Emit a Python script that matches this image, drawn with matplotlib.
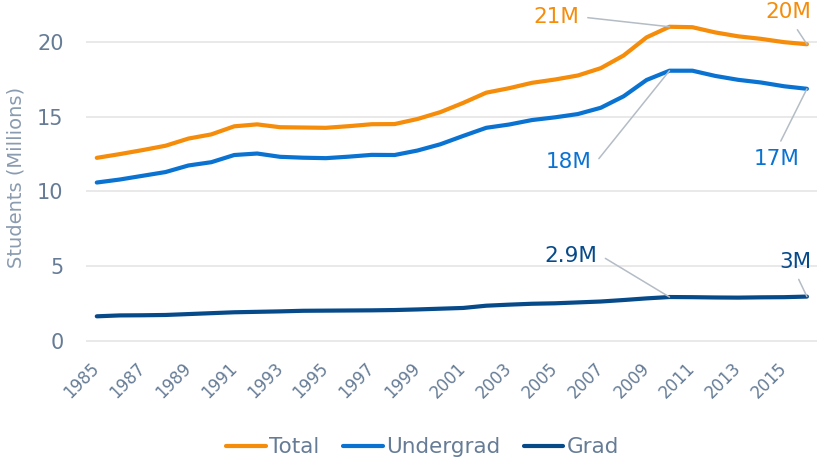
import matplotlib.pyplot as plt

# enrollment, millions of students
years = list(range(1985, 2017))
total = [12.25, 12.50, 12.77, 13.06, 13.54, 13.82, 14.36, 14.49, 14.30, 14.28,
         14.26, 14.37, 14.50, 14.51, 14.85, 15.31, 15.93, 16.61, 16.91, 17.27,
         17.49, 17.76, 18.25, 19.10, 20.31, 21.02, 20.99, 20.64, 20.38, 20.21,
         19.99, 19.85]
undergrad = [10.60, 10.80, 11.05, 11.30, 11.74, 11.96, 12.44, 12.54, 12.32, 12.26,
             12.23, 12.33, 12.45, 12.44, 12.74, 13.16, 13.72, 14.26, 14.48, 14.78,
             14.96, 15.18, 15.60, 16.37, 17.46, 18.08, 18.08, 17.73, 17.47, 17.29,
             17.04, 16.87]
grad = [1.65, 1.71, 1.72, 1.74, 1.80, 1.86, 1.92, 1.95, 1.98, 2.02,
        2.03, 2.04, 2.05, 2.07, 2.11, 2.16, 2.21, 2.36, 2.43, 2.49,
        2.52, 2.58, 2.64, 2.74, 2.85, 2.94, 2.93, 2.91, 2.90, 2.92,
        2.93, 2.97]

series_names = ["Total", "Undergrad", "Grad"]
series_colors = ["#F58C0A", "#0A73D2", "#074A8A"]
tick_years = list(range(1985, 2016, 2))
ytick_vals = [0, 5, 10, 15, 20]

TEXT = "#667C96"
LEADER = "#B4BCC6"

fig = plt.figure(figsize=(8.17, 4.61), dpi=100)
ax = fig.add_axes([0.105, 0.256, 0.895, 0.744])

for vals, name, col in zip([total, undergrad, grad], series_names, series_colors):
    ax.plot(years, vals, color=col, linewidth=3, label=name, solid_capstyle="round", zorder=3)

ax.set_xlim(1984.52, 2016.44)
ax.set_ylim(-0.134, 22.81)
ax.set_yticks(ytick_vals)
ax.set_xticks(tick_years)
ax.set_xticklabels([str(y) for y in tick_years], rotation=45, ha="right", va="center",
                   rotation_mode="anchor")
ax.tick_params(axis="x", length=0, pad=16, labelsize=12, labelcolor=TEXT)
ax.tick_params(axis="y", length=0, pad=16, labelsize=15, labelcolor=TEXT)
ax.grid(axis="y", color="#E3E3E3", linewidth=1.1, zorder=0)
for s in ax.spines.values():
    s.set_visible(False)
ax.set_ylabel("Students (Millions)", fontsize=14, color="#8A9BB0")
ax.yaxis.set_label_coords(-0.083, 0.483)

# annotations: (series, year, label, text offset in points, ha, relpos, arc arm)
notes = [
    (total, 2010, "21M", (-64.8, 7.2), "right", (1, 0.5), 0),
    (total, 2016, "20M", (-13.7, 23.0), "center", (0.6, 0.0), 0),
    (undergrad, 2010, "18M", (-56.2, -65.5), "right", (1, 0.5), 5),
    (undergrad, 2016, "17M", (-21.6, -50.4), "center", (0.5, 1.0), 0),
    (grad, 2010, "2.9M", (-51.8, 29.5), "right", (1, 0.5), 4),
    (grad, 2016, "3M", (-8.6, 25.2), "center", (0.5, 0.0), 0),
]
for vals, yr, lab, off, ha, rp, arm in notes:
    col = series_colors[[total, undergrad, grad].index(vals)]
    if arm:
        cs = f"arc,angleA=0,armA={arm},angleB=0,armB=0,rad=0"
    else:
        cs = "arc3,rad=0"
    ax.annotate(lab, xy=(yr, vals[years.index(yr)]), xytext=off, textcoords="offset points",
                ha=ha, va="center", fontsize=15.5, color=col, annotation_clip=False,
                arrowprops=dict(arrowstyle="-", color=LEADER, linewidth=1.1, relpos=rp,
                                shrinkA=4, shrinkB=0, connectionstyle=cs),
                zorder=4)

leg = fig.legend(loc="center", bbox_to_anchor=(0.517, 0.03), ncol=3, frameon=False,
                 fontsize=15.5, handlelength=1.85, handletextpad=0.15, columnspacing=1.1)
for t in leg.get_texts():
    t.set_color(TEXT)

fig.savefig("out.png", dpi=100)
